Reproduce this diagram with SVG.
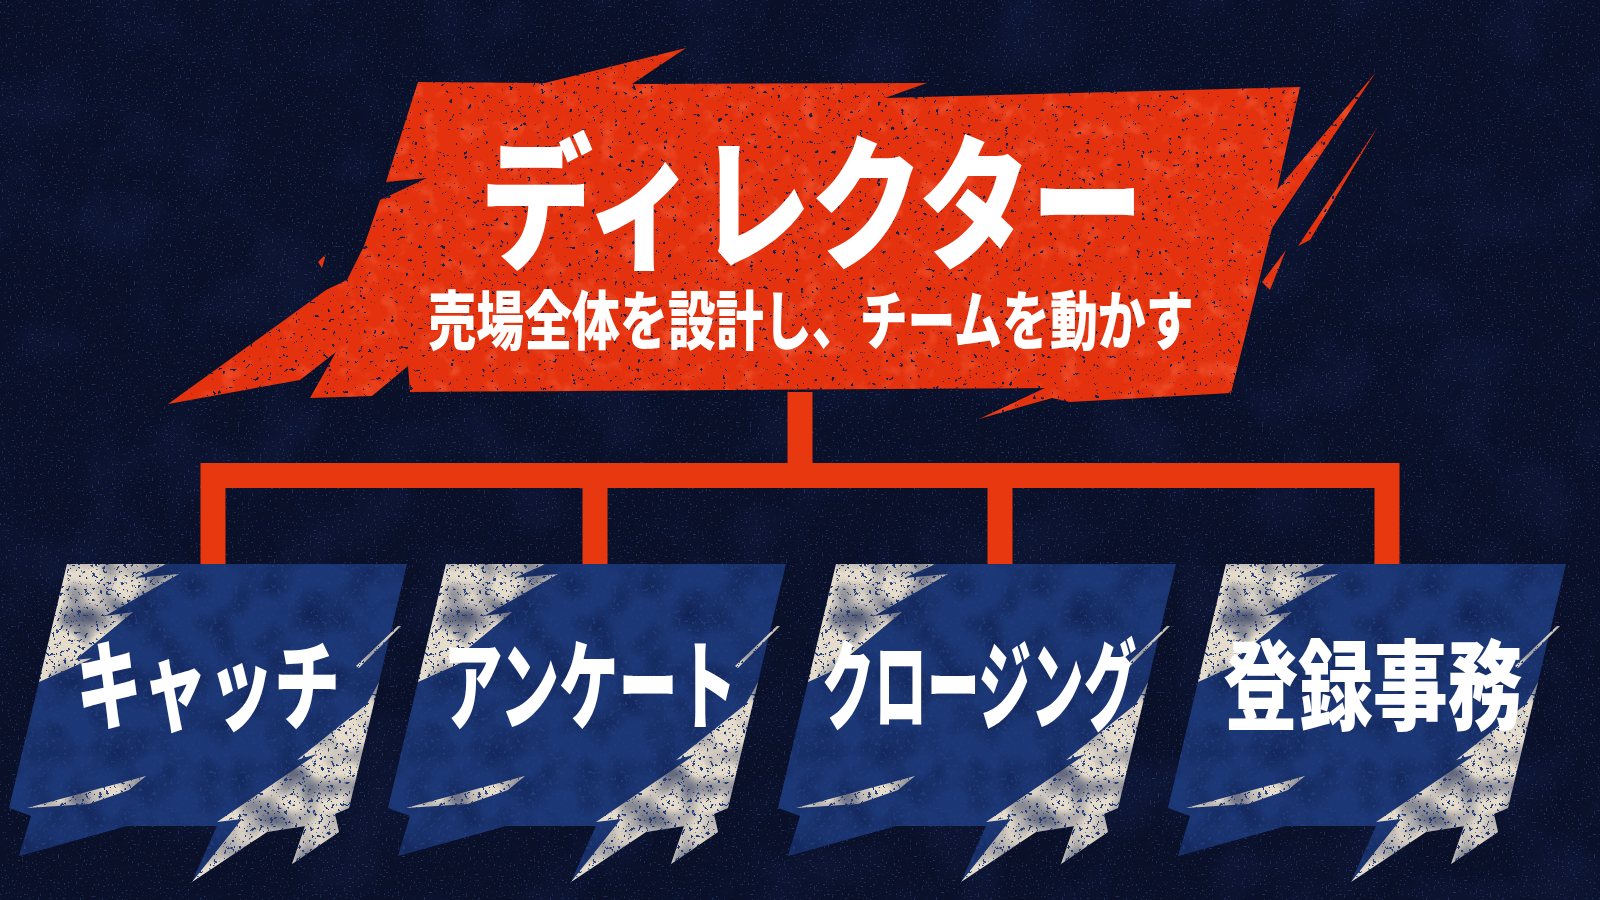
<svg xmlns="http://www.w3.org/2000/svg" xmlns:xlink="http://www.w3.org/1999/xlink" width="1600" height="900" viewBox="0 0 1600 900">
<defs>
<style>
.bg{fill:#0a1028}
.red{fill:#e4320e}
.card{fill:#1c3775}
.cream{fill:#e6dccb}
.conn{fill:none;stroke:#e8380f;stroke-width:25;stroke-linejoin:miter;stroke-linecap:butt}
.jp{font-family:"Noto Sans CJK JP","Noto Sans CJK SC",sans-serif;font-weight:900;fill:#ffffff;text-anchor:middle}
filter{color-interpolation-filters:sRGB}
</style>
<filter id="grungeBlue" x="-15%" y="-15%" width="130%" height="140%" color-interpolation-filters="sRGB">
<feTurbulence type="fractalNoise" baseFrequency="0.28" numOctaves="4" seed="7" result="noise"/>
<feColorMatrix in="noise" type="matrix" values="0 0 0 0 0.12  0 0 0 0 0.23  0 0 0 0 0.48  16 0 0 0 -10.0" result="dots"/>
<feComposite in="dots" in2="SourceAlpha" operator="in" result="dotsIn"/>
<feTurbulence type="fractalNoise" baseFrequency="0.03" numOctaves="2" seed="2" result="n2"/>
<feColorMatrix in="n2" type="matrix" values="0 0 0 0 0.06  0 0 0 0 0.12  0 0 0 0 0.3  1.5 0 0 0 -0.6" result="dark"/>
<feComposite in="dark" in2="SourceAlpha" operator="in" result="darkIn"/>
<feMerge><feMergeNode in="SourceGraphic"/><feMergeNode in="darkIn"/><feMergeNode in="dotsIn"/></feMerge>
</filter>
<filter id="grungeRed" x="-10%" y="-10%" width="120%" height="130%" color-interpolation-filters="sRGB">
<feTurbulence type="fractalNoise" baseFrequency="0.22" numOctaves="4" seed="11" result="noise"/>
<feColorMatrix in="noise" type="matrix" values="0 0 0 0 0.07  0 0 0 0 0.12  0 0 0 0 0.3  20 0 0 0 -14.2" result="dots"/>
<feComposite in="dots" in2="SourceAlpha" operator="in" result="dotsIn"/>
<feTurbulence type="fractalNoise" baseFrequency="0.05" numOctaves="3" seed="5" result="n2"/>
<feColorMatrix in="n2" type="matrix" values="0 0 0 0 0.98  0 0 0 0 0.42  0 0 0 0 0.28  1.4 0 0 0 -0.75" result="light"/>
<feComposite in="light" in2="SourceAlpha" operator="in" result="lightIn"/>
<feMerge><feMergeNode in="SourceGraphic"/><feMergeNode in="lightIn"/><feMergeNode in="dotsIn"/></feMerge>
</filter>
<filter id="bgTex" x="0" y="0" width="100%" height="100%" color-interpolation-filters="sRGB">
<feTurbulence type="fractalNoise" baseFrequency="0.5" numOctaves="4" seed="3" result="noise"/>
<feColorMatrix in="noise" type="matrix" values="0 0 0 0 0.3  0 0 0 0 0.42  0 0 0 0 0.75  16 0 0 0 -10.8"/>
</filter>
<filter id="bgMottle" x="0" y="0" width="100%" height="100%" color-interpolation-filters="sRGB">
<feTurbulence type="fractalNoise" baseFrequency="0.012" numOctaves="3" seed="9" result="noise"/>
<feColorMatrix in="noise" type="matrix" values="0 0 0 0 0.08  0 0 0 0 0.13  0 0 0 0 0.3  2.2 0 0 0 -1.0"/>
</filter>
<g id="cardShape">
<path class="card" d="M0,0 H340 L282,244 L268,250 L272,268 L225,300 L240,262 L200,268 L125,318 L150,262 L60,262 L-48,292 L-36,252 L-58,244 Z"/>
<path class="cream" d="M0,0 H100 L68,14 L112,10 L38,52 L66,48 L8,96 L26,94 L-28,118 Z"/>
<path class="cream" d="M312,118 L282,244 L268,250 L272,268 L225,300 L238,262 L200,268 L125,318 L175,255 L150,258 L250,190 L230,196 L300,140 Z"/>
<path class="cream" d="M-40,244 L79,212 L62,226 L22,240 Z"/>
<path class="cream" d="M331,62 L334,62 L292,104 L289,102 Z"/>
</g>
</defs>

<g id="background">
<rect class="bg" x="0" y="0" width="1600" height="900"/>
<rect x="0" y="0" width="1600" height="900" filter="url(#bgMottle)" opacity="0.45"/>
<rect x="0" y="0" width="1600" height="900" filter="url(#bgTex)" opacity="0.35"/>
</g>

<g id="connectors">
<path class="conn" d="M800,392 V475.5"/>
<path class="conn" d="M213,565 V475.5 H1387 V565"/>
<path class="conn" d="M595,475.5 V565"/>
<path class="conn" d="M1000,475.5 V565"/>
</g>

<g id="node-director">
<g filter="url(#grungeRed)">
<path class="red" d="M418,82 L545,83 L686,48 L632,84 L927,83 L885,98 L1300,87 L1277,190 L1376,72 L1272,228 L1231,393 L1070,402 L1052,398 L979,419 L1045,388 L410,392 L408,366 L372,396 L310,398 L336,352 L300,380 L168,404 L326,290 L347,280 L364,246 L380,200 L427,178 L386,182 Z"/>
<path class="red" d="M1298,246 L1379,125 L1310,240 Z"/>
<path class="red" d="M1262,282 L1286,250 L1270,290 Z"/>
<path class="red" d="M318,262 L326,254 L322,268 Z"/>
</g>
<text class="jp" transform="translate(812,258) scale(0.777,1)" font-size="145">ディレクター</text>
<text class="jp" transform="translate(811,344) scale(0.749,1)" font-size="64">売場全体を設計し、チームを動かす</text>
</g>

<g id="node-catch">
<use xlink:href="#cardShape" href="#cardShape" transform="translate(67,564)" filter="url(#grungeBlue)"/>
<text class="jp" transform="translate(208,722) scale(0.673,1)" font-size="98">キャッチ</text>
</g>

<g id="node-survey">
<use xlink:href="#cardShape" href="#cardShape" transform="translate(446,564)" filter="url(#grungeBlue)"/>
<text class="jp" transform="translate(590,722) scale(0.604,1)" font-size="98">アンケート</text>
</g>

<g id="node-closing">
<use xlink:href="#cardShape" href="#cardShape" transform="translate(836,564)" filter="url(#grungeBlue)"/>
<text class="jp" transform="translate(979,722) scale(0.537,1)" font-size="98">クロージング</text>
</g>

<g id="node-registration">
<use xlink:href="#cardShape" href="#cardShape" transform="translate(1226,564)" filter="url(#grungeBlue)"/>
<text class="jp" transform="translate(1373,722) scale(0.763,1)" font-size="98">登録事務</text>
</g>
</svg>
